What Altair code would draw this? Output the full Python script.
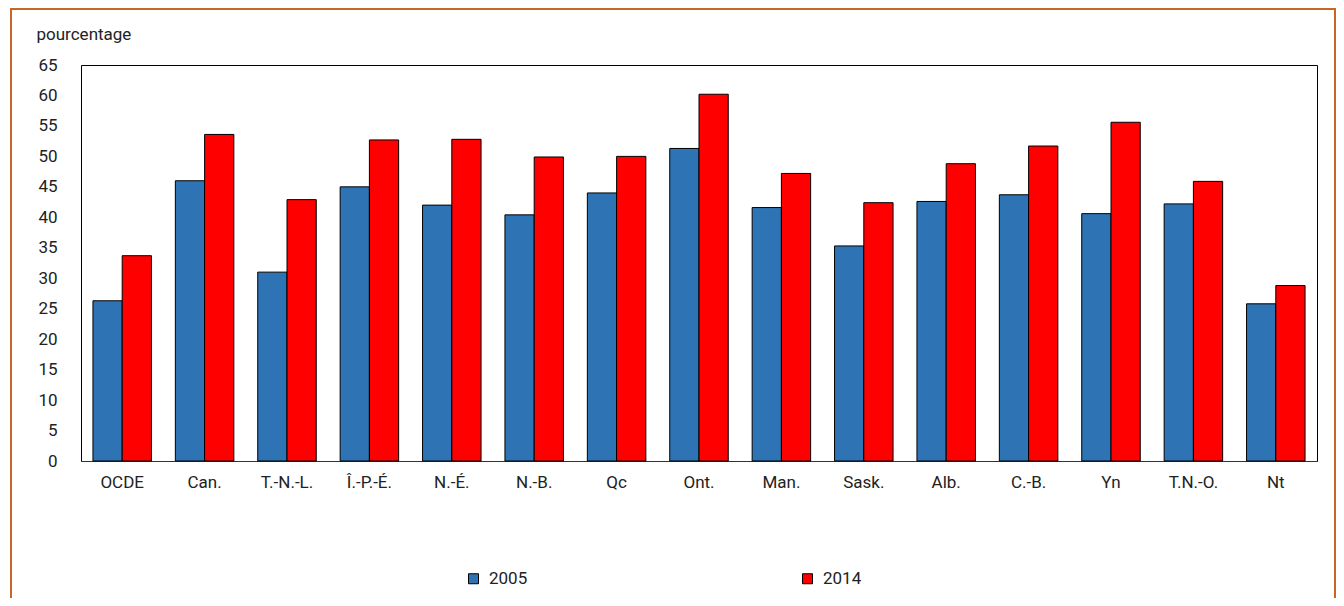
import altair as alt
import pandas as pd

categories = ["OCDE", "Can.", "T.-N.-L.", "Î.-P.-É.", "N.-É.", "N.-B.", "Qc", "Ont.",
              "Man.", "Sask.", "Alb.", "C.-B.", "Yn", "T.N.-O.", "Nt"]
values_2005 = [26.3, 46.0, 31.0, 45.0, 42.0, 40.4, 44.0, 51.3, 41.6, 35.3, 42.6, 43.7, 40.6, 42.2, 25.8]
values_2014 = [33.7, 53.6, 42.9, 52.7, 52.8, 49.9, 50.0, 60.2, 47.2, 42.4, 48.8, 51.7, 55.6, 45.9, 28.8]
series = ["2005", "2014"]
y_ticks = list(range(0, 70, 5))

rows = []
for c, a, b in zip(categories, values_2005, values_2014):
    rows.append({"cat": c, "annee": "2005", "val": a})
    rows.append({"cat": c, "annee": "2014", "val": b})
df = pd.DataFrame(rows)

FONT = "Roboto, Liberation Sans, sans-serif"
FS = 17
W, H = 1236, 396

bars = alt.Chart(df).mark_bar(stroke="black", strokeWidth=1).encode(
    x=alt.X("cat:N", sort=categories,
            scale=alt.Scale(paddingInner=0.29, paddingOuter=0.145),
            axis=alt.Axis(title=None, labelAngle=0, ticks=False, domain=True,
                          domainColor="#333333", labelPadding=13, labelFontSize=FS,
                          labelColor="#222222", labelFont=FONT)),
    xOffset=alt.XOffset("annee:N", sort=series),
    y=alt.Y("val:Q", scale=alt.Scale(domain=[0, 65], nice=False),
            axis=alt.Axis(values=y_ticks, grid=False, ticks=False, domain=False,
                          labelPadding=24, labelFontSize=FS, labelColor="#222222",
                          labelFont=FONT, title="pourcentage", titleAngle=0,
                          titleAlign="left", titleBaseline="middle", titleX=-45,
                          titleY=-31, titleFont=FONT, titleFontSize=FS,
                          titleFontWeight="normal", titleColor="#222222")),
    color=alt.Color("annee:N", sort=series,
                    scale=alt.Scale(domain=series, range=["#2E74B5", "#FF0000"]),
                    legend=alt.Legend(title=None, orient="none", direction="horizontal",
                                      legendX=384, legendY=505, columns=2,
                                      columnPadding=271, symbolType="square",
                                      symbolSize=100, symbolStrokeColor="black",
                                      symbolStrokeWidth=1, labelOffset=7,
                                      labelFontSize=FS, labelFont=FONT,
                                      labelColor="#222222", padding=0)),
)

frame = alt.Chart(pd.DataFrame({"a": [0]})).mark_rect(
    fill=None, stroke="#C5662A", strokeWidth=2, clip=False
).encode(
    x=alt.value(-70), x2=alt.value(1254), y=alt.value(-56), y2=alt.value(700)
)

chart = alt.layer(frame, bars).properties(
    width=W, height=H,
    autosize=alt.AutoSizeParams(type="none"),
    padding={"left": 73, "top": 57, "right": 19, "bottom": 137},
).configure(font=FONT).configure_view(stroke="#000000", strokeWidth=1)

chart.save("out.html", embed_options={"renderer": "svg", "actions": False})
